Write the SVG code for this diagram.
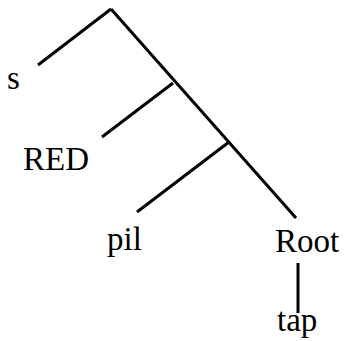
<svg xmlns="http://www.w3.org/2000/svg" width="345" height="341" viewBox="0 0 345 341">
<style>
text{font-family:'Liberation Serif','DejaVu Serif',serif;font-size:33px;fill:#000}
.e{stroke:#000;stroke-width:3;fill:none;stroke-linecap:butt}
</style>
<rect width="345" height="341" fill="#fff"/>
<g id="edges">
<line class="e" x1="38" y1="65" x2="111" y2="9"/>
<line class="e" x1="111" y1="9" x2="296" y2="218"/>
<line class="e" x1="173" y1="83" x2="102" y2="137"/>
<line class="e" x1="229" y1="142" x2="137" y2="212"/>
<line class="e" x1="298" y1="263" x2="298" y2="313"/>
</g>
<g id="s"><text font-family="Liberation Serif, serif" x="7" y="89">s</text></g>
<g id="RED"><text font-family="Liberation Serif, serif" x="23" y="170">RED</text></g>
<g id="pil"><text font-family="Liberation Serif, serif" x="107" y="250">pil</text></g>
<g id="Root"><text font-family="Liberation Serif, serif" x="275" y="252">Root</text></g>
<g id="tap"><text font-family="Liberation Serif, serif" x="277" y="331">tap</text></g>
</svg>
